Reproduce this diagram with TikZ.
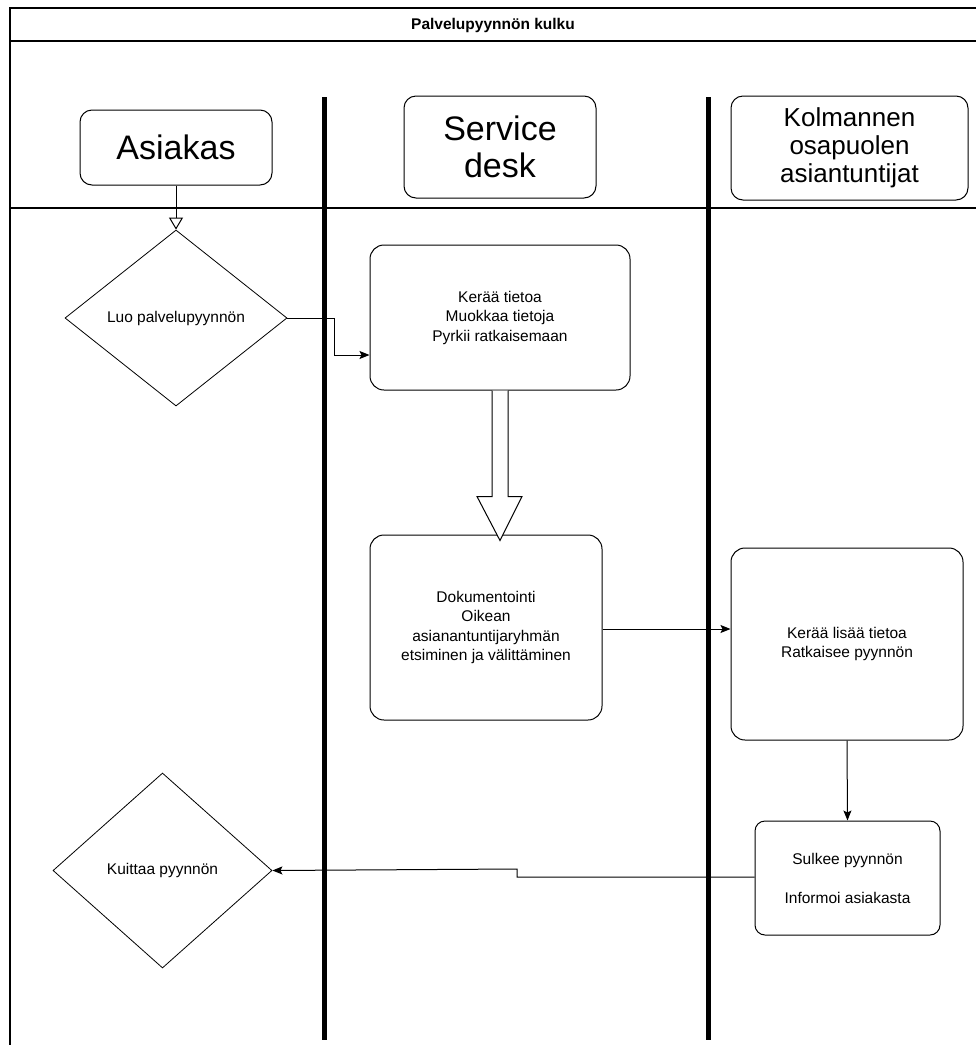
\documentclass[tikz,border=0pt]{standalone}
\usepackage{fontspec}
\setmainfont{Liberation Sans}
\usetikzlibrary{arrows.meta,shapes.geometric,calc}
\begin{document}
\begin{tikzpicture}[x=1pt,y=-1pt,
  box/.style={draw,line width=1pt,rounded corners=14pt,align=center,inner sep=0pt,
    font=\fontsize{15.5}{19.5}\selectfont},
  hdr/.style={draw,line width=1pt,rounded corners=12pt,align=center,inner sep=0pt},
  dia/.style={draw,line width=0.8pt,diamond,inner sep=0pt,align=center,
    font=\fontsize{15.5}{18}\selectfont},
  lane/.style={line width=5pt},
  frame/.style={line width=1.2pt},
  conn/.style={line width=1pt,-{Stealth[length=10pt,width=8pt,inset=2pt]}},
]
\useasboundingbox (0,0) rectangle (976,1045);
% frame
\draw[frame] (976,8) -- (10,8) -- (10,1045);
\draw[frame] (10,41) -- (976,41);
\node[font=\bfseries\fontsize{15.5}{18}\selectfont] (title) at (493,25) {Palvelupyynnön kulku};
\draw[line width=2pt] (10,208) -- (976,208);
% lanes
\coordinate (l1t) at (324,97); \coordinate (l1b) at (324,1040);
\coordinate (l2t) at (708,97); \coordinate (l2b) at (708,1040);
\draw[lane] (l1t) -- (l1b);
\draw[lane] (l2t) -- (l2b);
% headers
\node[hdr,minimum width=192,minimum height=75,font=\fontsize{34}{37}\selectfont] (h1) at (176,147.5) {Asiakas};
\node[hdr,minimum width=192,minimum height=102,font=\fontsize{34}{37}\selectfont] (h2) at (500,147) {Service\\desk};
\node[hdr,minimum width=237,minimum height=104,font=\fontsize{26}{28}\selectfont] (h3) at (849.5,148) {Kolmannen\\osapuolen\\asiantuntijat};
% flow nodes
\node[dia,minimum width=222,minimum height=176] (d1) at (176,318) {Luo palvelupyynnön};
\node[box,minimum width=260,minimum height=145] (b1) at (500,317.5) {Kerää tietoa\\Muokkaa tietoja\\Pyrkii ratkaisemaan};
\node[box,minimum width=232,minimum height=185] (b2) at (486,627.5) {Dokumentointi\\Oikean\\asianantuntijaryhmän\\etsiminen ja välittäminen};
\node[box,minimum width=232,minimum height=192] (b3) at (847,644) {Kerää lisää tietoa\\Ratkaisee pyynnön};
\node[box,rounded corners=10pt,minimum width=185,minimum height=114] (b4) at (847.5,878) {Sulkee pyynnön\\[19.5pt]Informoi asiakasta};
\node[dia,minimum width=219,minimum height=195] (d2) at (162.5,870.5) {Kuittaa pyynnön};
% connectors
\draw[line width=1pt,-{Triangle[open,length=12pt,width=14pt]}] (h1.south) -- (d1.north);
\draw[conn] (d1.east) -- (334,318) -- (334,355) -- (b1.west |- 0,355);
\draw[line width=1pt,fill=white]
  ($(b1.south)+(-8,0)$) -- ($(b1.south)+(-8,106)$) -- ($(b1.south)+(-23,106)$)
  -- ($(b1.south)+(0,150)$) -- ($(b1.south)+(22,106)$) -- ($(b1.south)+(8,106)$)
  -- ($(b1.south)+(8,0)$);
\draw[conn] (b2.east |- 0,629) -- (b3.west |- 0,629);
\draw[conn] (b3.south) -- (b4.north);
\draw[conn] (b4.west |- 0,877) -- (517,877) -- (517,869) -- (d2.east);
\end{tikzpicture}
\end{document}
